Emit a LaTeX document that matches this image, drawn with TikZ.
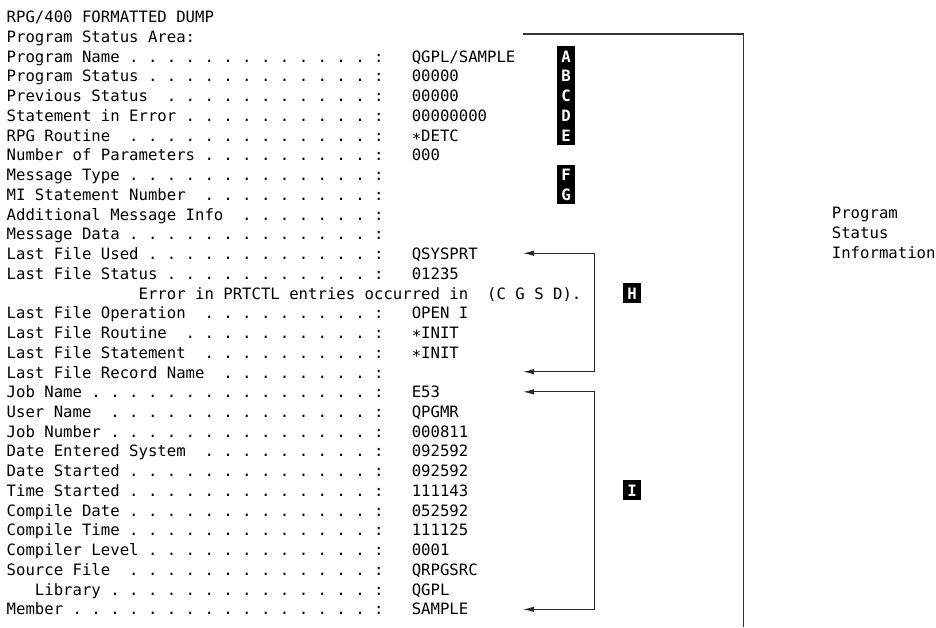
\documentclass[tikz,border=0pt]{standalone}
\usepackage{fontspec}
\usepackage{tikz}
\usetikzlibrary{arrows.meta}
\newfontfamily\dumpfont{DejaVu Sans Mono}
\newcount\dumpk
\newcommand{\dumpdots}[1]{\dumpk=#1\relax\loop\ifnum\dumpk>0 \ .\advance\dumpk by -1 \repeat\ :}
\tikzset{
	row/.style={anchor=base west,inner sep=0pt,font=\dumpfont\frenchspacing\fontsize{15.65}{19.74}\selectfont},
	tag/.style={anchor=base,fill=black,text=white,inner sep=0pt,minimum width=18.5pt,text height=16pt,text depth=3.8pt,font=\dumpfont\bfseries\fontsize{15.65}{19.74}\selectfont},
	bracket/.style={arrows={Latex[length=11pt,width=5.5pt]-Latex[length=11pt,width=5.5pt]},line width=0.9pt,draw=black!85},
	frame/.style={line width=1.2pt,draw=black!80}
}

\begin{document}
\begin{tikzpicture}
	\useasboundingbox (0,0) rectangle (936pt,-627pt);
	\begin{scope}[shift={(6.5pt,-22.7pt)},x=9.42pt,y=-19.74pt]
		% dump lines
		\node[row] (head) at (0,0) {RPG/400 FORMATTED DUMP};
		\node[row] (area) at (0,1) {Program Status Area:};
		\node[row] (pgmname) at (0,2) {Program Name\dumpdots{13}};
		\node[row] (pgmnameval) at (43,2) {QGPL/SAMPLE};
		\node[row] (pgmstat) at (0,3) {Program Status\dumpdots{12}};
		\node[row] (pgmstatval) at (43,3) {00000};
		\node[row] (prevstat) at (0,4) {Previous Status\ \dumpdots{11}};
		\node[row] (prevstatval) at (43,4) {00000};
		\node[row] (stmterr) at (0,5) {Statement in Error\dumpdots{10}};
		\node[row] (stmterrval) at (43,5) {00000000};
		\node[row] (routine) at (0,6) {RPG Routine\ \dumpdots{13}};
		\node[row] (routineval) at (43,6) {∗DETC};
		\node[row] (parms) at (0,7) {Number of Parameters\dumpdots{9}};
		\node[row] (parmsval) at (43,7) {000};
		\node[row] (msgtype) at (0,8) {Message Type\dumpdots{13}};
		\node[row] (mistmt) at (0,9) {MI Statement Number\ \dumpdots{9}};
		\node[row] (msginfo) at (0,10) {Additional Message Info\ \dumpdots{7}};
		\node[row] (msgdata) at (0,11) {Message Data\dumpdots{13}};
		\node[row] (fileused) at (0,12) {Last File Used\dumpdots{12}};
		\node[row] (fileusedval) at (43,12) {QSYSPRT};
		\node[row] (filestat) at (0,13) {Last File Status\dumpdots{11}};
		\node[row] (filestatval) at (43,13) {01235};
		\node[row] (prtctl) at (14,14) {Error in PRTCTL entries occurred in\ \ (C G S D).};
		\node[row] (fileop) at (0,15) {Last File Operation\ \dumpdots{9}};
		\node[row] (fileopval) at (43,15) {OPEN I};
		\node[row] (filertn) at (0,16) {Last File Routine\ \dumpdots{10}};
		\node[row] (filertnval) at (43,16) {∗INIT};
		\node[row] (filestmt) at (0,17) {Last File Statement\ \dumpdots{9}};
		\node[row] (filestmtval) at (43,17) {∗INIT};
		\node[row] (filerec) at (0,18) {Last File Record Name\ \dumpdots{8}};
		\node[row] (jobname) at (0,19) {Job Name\dumpdots{15}};
		\node[row] (jobnameval) at (43,19) {E53};
		\node[row] (user) at (0,20) {User Name\ \dumpdots{14}};
		\node[row] (userval) at (43,20) {QPGMR};
		\node[row] (jobnbr) at (0,21) {Job Number\dumpdots{14}};
		\node[row] (jobnbrval) at (43,21) {000811};
		\node[row] (entered) at (0,22) {Date Entered System\ \dumpdots{9}};
		\node[row] (enteredval) at (43,22) {092592};
		\node[row] (datestart) at (0,23) {Date Started\dumpdots{13}};
		\node[row] (datestartval) at (43,23) {092592};
		\node[row] (timestart) at (0,24) {Time Started\dumpdots{13}};
		\node[row] (timestartval) at (43,24) {111143};
		\node[row] (compdate) at (0,25) {Compile Date\dumpdots{13}};
		\node[row] (compdateval) at (43,25) {052592};
		\node[row] (comptime) at (0,26) {Compile Time\dumpdots{13}};
		\node[row] (comptimeval) at (43,26) {111125};
		\node[row] (complvl) at (0,27) {Compiler Level\dumpdots{12}};
		\node[row] (complvlval) at (43,27) {0001};
		\node[row] (srcfile) at (0,28) {Source File\ \dumpdots{13}};
		\node[row] (srcfileval) at (43,28) {QRPGSRC};
		\node[row] (srclib) at (3,29) {Library\dumpdots{14}};
		\node[row] (srclibval) at (43,29) {QGPL};
		\node[row] (member) at (0,30) {Member\dumpdots{16}};
		\node[row] (memberval) at (43,30) {SAMPLE};
		% callout letters
		\node[tag] (tagA) at (59.4,2) {A};
		\node[tag] (tagB) at (59.4,3) {B};
		\node[tag] (tagC) at (59.4,4) {C};
		\node[tag] (tagD) at (59.4,5) {D};
		\node[tag] (tagE) at (59.4,6) {E};
		\node[tag] (tagF) at (59.4,8) {F};
		\node[tag] (tagG) at (59.4,9) {G};
		\node[tag] (tagH) at (66.4,14) {H};
		\node[tag] (tagI) at (66.4,24) {I};
		% brackets
		\coordinate (fileTop) at (54.85,11.68);
		\coordinate (fileBot) at (54.85,17.68);
		\draw[bracket] (fileTop) -- ++(7.55,0) |- (fileBot);
		\coordinate (jobTop) at (54.85,18.7);
		\coordinate (jobBot) at (54.85,29.72);
		\draw[bracket] (jobTop) -- ++(7.6,0) |- (jobBot);
		\coordinate (areaStart) at (54.8,0.572);
		\coordinate (areaEnd) at (78.24,30.61);
		\draw[frame] (areaStart) -| (areaEnd);
		\node[row] (infoA) at (87.6,9.93) {Program};
		\node[row] (infoB) at (87.6,10.93) {Status};
		\node[row] (infoC) at (87.6,11.93) {Information};
	\end{scope}
\end{tikzpicture}
\end{document}
